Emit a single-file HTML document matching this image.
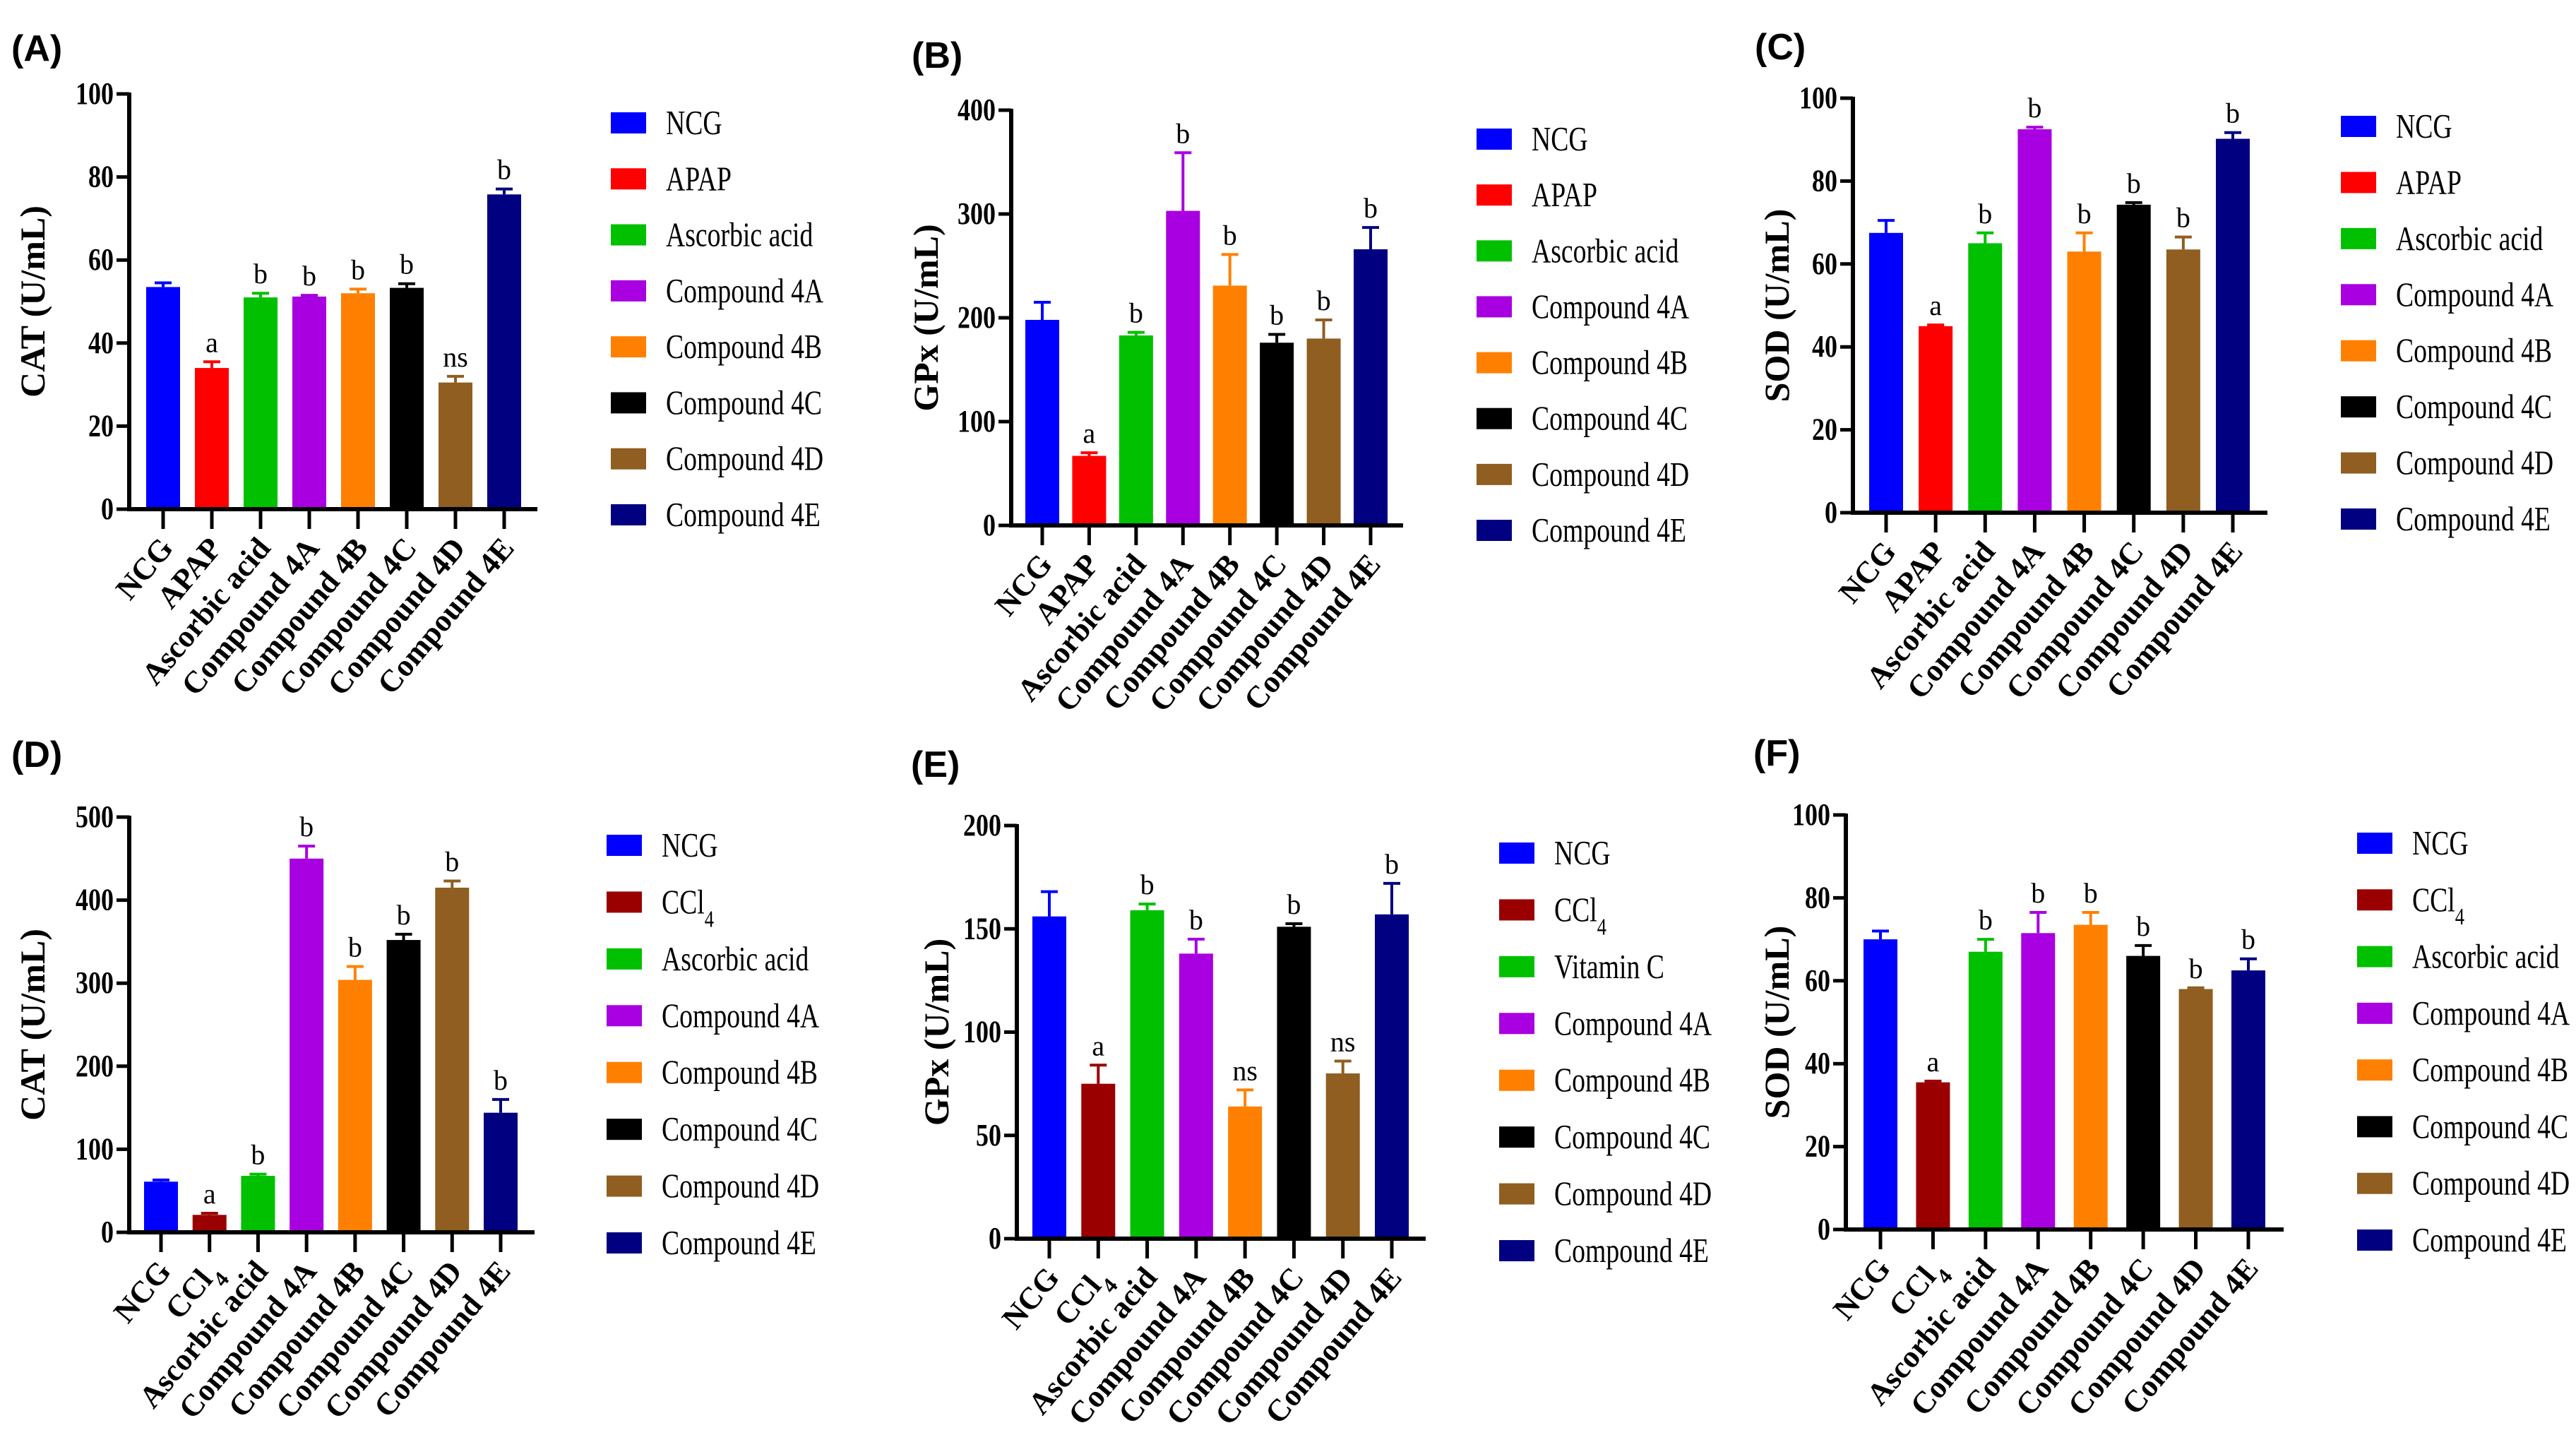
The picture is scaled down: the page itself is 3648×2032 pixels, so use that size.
<!DOCTYPE html>
<html><head><meta charset="utf-8"><style>
html,body{margin:0;padding:0;background:#fff;}
svg{display:block;}
</style></head><body>
<svg id="fig" xmlns="http://www.w3.org/2000/svg" width="3648" height="2032" viewBox="0 0 3648 2032">
<rect width="3648" height="2032" fill="#fff"/>
</svg>
<script>
const catsAPAP = ["NCG","APAP","Ascorbic acid","Compound 4A","Compound 4B","Compound 4C","Compound 4D","Compound 4E"];
const catsCCl4 = ["NCG","CCl4","Ascorbic acid","Compound 4A","Compound 4B","Compound 4C","Compound 4D","Compound 4E"];
const legendE = ["NCG","CCl4","Vitamin C","Compound 4A","Compound 4B","Compound 4C","Compound 4D","Compound 4E"];
const colorsAPAP = ["#0000ff","#ff0000","#00c000","#a800e0","#ff8000","#000000","#8f5e20","#000080"];
const colorsCCl4 = ["#0000ff","#9a0000","#00c000","#a800e0","#ff8000","#000000","#8f5e20","#000080"];

const valsA = [53.5,34,51,51.2,52,53.3,30.5,75.8];
const errsA = [1,1.5,1,0.3,1,1,1.5,1.3];
const sigA = ["","a","b","b","b","b","ns","b"];
const ticksA = [0,20,40,60,80,100];

const valsB = [198,67,183,303,231,176,180,266];
const errsB = [17,3,3,56,30,8,18,21];
const sigB = ["","a","b","b","b","b","b","b"];
const ticksB = [0,100,200,300,400];

const valsC = [67.5,45,65,92.5,63,74.3,63.5,90.2];
const errsC = [3,0.3,2.5,0.5,4.5,0.5,3,1.5];
const sigC = ["","a","b","b","b","b","b","b"];
const ticksC = [0,20,40,60,80,100];

const valsD = [61,21,68,450,304,352,415,144];
const errsD = [2,2,2,15,16,7,8,16];
const sigD = ["","a","b","b","b","b","b","b"];
const ticksD = [0,100,200,300,400,500];

const valsE = [156,75,159,138,64,151,80,157];
const errsE = [12,9,3,7,8,1.5,6,15];
const sigE = ["","a","b","b","ns","b","ns","b"];
const ticksE = [0,50,100,150,200];

const valsF = [70,35.5,67,71.5,73.5,66,58,62.5];
const errsF = [2,0.3,3,5,3,2.5,0.3,2.8];
const sigF = ["","a","b","b","b","b","b","b"];
const ticksF = [0,20,40,60,80,100];

const NS = "http://www.w3.org/2000/svg";
const svg = document.getElementById('fig');
function mk(tag, attrs, parent){const e=document.createElementNS(NS,tag);for(const k in attrs)e.setAttribute(k,attrs[k]);(parent||svg).appendChild(e);return e;}
function setLabel(t, s){
  if(s==="CCl4"){t.textContent="CCl";const ts=document.createElementNS(NS,'tspan');ts.setAttribute('baseline-shift','sub');ts.setAttribute('font-size','0.7em');ts.textContent="4";t.appendChild(ts);}
  else t.textContent=s;
}

const panels = [
 {id:"a",tag:"(A)",tx:16,ty:86,title:"CAT (U/mL)",titleX:46,ax:183,top:133,zero:721,end:761,b0:231,b7:714,lx:865,ly0:174,ly7:729,max:100,vals:valsA,errs:errsA,sig:sigA,ticks:ticksA,cats:catsAPAP,leg:catsAPAP,cols:colorsAPAP},
 {id:"b",tag:"(B)",tx:1291,ty:96,title:"GPx (U/mL)",titleX:1311,ax:1432,top:156,zero:744,end:1987,b0:1476,b7:1941,lx:2091,ly0:197,ly7:751,max:400,vals:valsB,errs:errsB,sig:sigB,ticks:ticksB,cats:catsAPAP,leg:catsAPAP,cols:colorsAPAP},
 {id:"c",tag:"(C)",tx:2485,ty:84,title:"SOD (U/mL)",titleX:2516,ax:2624,top:139,zero:726,end:3211,b0:2671,b7:3162,lx:3315,ly0:179,ly7:735,max:100,vals:valsC,errs:errsC,sig:sigC,ticks:ticksC,cats:catsAPAP,leg:catsAPAP,cols:colorsAPAP},
 {id:"d",tag:"(D)",tx:16,ty:1086,title:"CAT (U/mL)",titleX:46,ax:183,top:1157,zero:1745,end:757,b0:228,b7:709,lx:859,ly0:1197,ly7:1760,max:500,vals:valsD,errs:errsD,sig:sigD,ticks:ticksD,cats:catsCCl4,leg:catsCCl4,cols:colorsCCl4},
 {id:"e",tag:"(E)",tx:1290,ty:1100,title:"GPx (U/mL)",titleX:1326,ax:1440,top:1169,zero:1754,end:2019,b0:1486,b7:1971,lx:2123,ly0:1208,ly7:1771,max:200,vals:valsE,errs:errsE,sig:sigE,ticks:ticksE,cats:catsCCl4,leg:legendE,cols:colorsCCl4},
 {id:"f",tag:"(F)",tx:2483,ty:1084,title:"SOD (U/mL)",titleX:2516,ax:2614,top:1154,zero:1741,end:3234,b0:2663,b7:3184,lx:3338,ly0:1194,ly7:1756,max:100,vals:valsF,errs:errsF,sig:sigF,ticks:ticksF,cats:catsCCl4,leg:catsCCl4,cols:colorsCCl4}
];

panels.forEach(p=>{
  const g = mk('g',{});
  
  
  const y = v => p.zero - v/p.max*(p.zero-p.top);
  const step = (p.b7-p.b0)/7;
  const x = i => p.b0 + i*step;
  const bw = 48;

  const lab = mk('text',{x:p.tx,y:p.ty,'font-family':'Liberation Sans, sans-serif','font-weight':'bold','font-size':52,fill:'#000'},g);
  lab.textContent=p.tag;
  
  

  const cy=(p.top+p.zero)/2;
  const tt = mk('text',{x:p.titleX,y:cy,transform:`rotate(-90 ${p.titleX} ${cy})`,'text-anchor':'middle','dominant-baseline':'central','font-family':'Liberation Serif, serif','font-weight':'bold','font-size':50,fill:'#000'},g);
  tt.textContent=p.title;
  
  

  p.vals.forEach((v,i)=>{
    const r = mk('rect',{x:x(i)-bw/2,y:y(v),width:bw,height:p.zero-y(v),fill:p.cols[i]},g);
    
    
    const ey = y(v+p.errs[i]);
    const el = mk('path',{d:`M${x(i)} ${y(v)} V${ey} M${x(i)-12} ${ey} H${x(i)+12}`,stroke:p.cols[i],'stroke-width':4,fill:'none'},g);
    
    
    if(p.sig[i]){
      const s = mk('text',{x:x(i),y:ey-14,'text-anchor':'middle','font-family':'Liberation Serif, serif','font-size':40,fill:'#000'},g);
      s.textContent=p.sig[i];
      
      
    }
  });

  const ya = mk('path',{d:`M${p.ax} ${p.top-2} V${p.zero}`,stroke:'#000','stroke-width':6,fill:'none'},g);
  
  
  const xa = mk('path',{d:`M${p.ax-3} ${p.zero} H${p.end}`,stroke:'#000','stroke-width':6,fill:'none'},g);
  
  

  p.ticks.forEach(t=>{
    const ty=y(t);
    const tk = mk('path',{d:`M${p.ax-18} ${ty} H${p.ax}`,stroke:'#000','stroke-width':5},g);
    
    
    const tg = mk('g',{transform:`translate(${p.ax-22} ${ty+14}) scale(0.9 1.1)`},g);
    const tl = mk('text',{x:0,y:0,'text-anchor':'end','font-family':'Liberation Serif, serif','font-weight':'bold','font-size':40,fill:'#000'},tg);
    tl.textContent=t;
    
    
  });

  p.cats.forEach((c,i)=>{
    const tk = mk('path',{d:`M${x(i)} ${p.zero} V${p.zero+28}`,stroke:'#000','stroke-width':5},g);
    
    
    const lx=x(i)+16, ly=p.zero+56;
    const tl = mk('text',{x:lx,y:ly,transform:`rotate(-50 ${lx} ${ly})`,'text-anchor':'end','font-family':'Liberation Serif, serif','font-weight':'bold','font-size':44,fill:'#000'},g);
    setLabel(tl,c);
    
    
  });

  const lstep=(p.ly7-p.ly0)/7;
  p.leg.forEach((c,i)=>{
    const ly=p.ly0+i*lstep;
    const sw = mk('rect',{x:p.lx,y:ly-15,width:50,height:30,fill:p.cols[i]},g);
    
    
    const tg = mk('g',{transform:`translate(${p.lx+78} ${ly+16}) scale(0.82 1.05)`},g);
    const tl = mk('text',{x:0,y:0,'font-family':'Liberation Serif, serif','font-size':46,fill:'#000'},tg);
    setLabel(tl,c);
    
    
  });
});
</script>
</body></html>
